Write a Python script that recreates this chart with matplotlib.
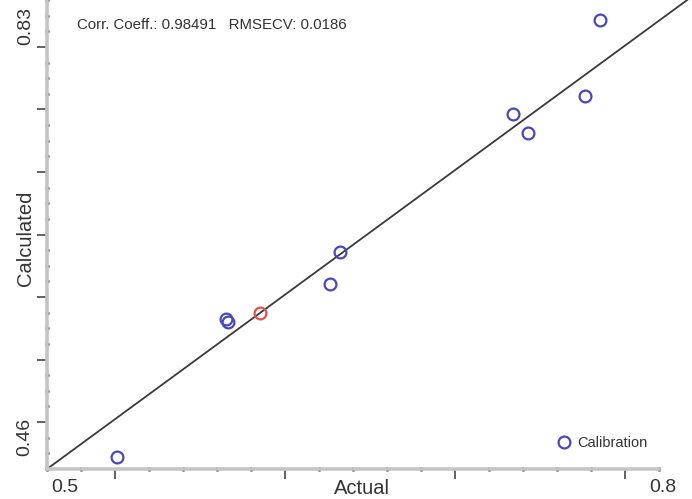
import matplotlib.pyplot as plt
import numpy as np

# values
actual_cal = [0.5343, 0.5877, 0.5887, 0.6387, 0.6436, 0.7284, 0.7358, 0.7637, 0.7711]
calc_cal = [0.4695, 0.5783, 0.5760, 0.6060, 0.6312, 0.7401, 0.7251, 0.7543, 0.8143]
actual_val = [0.6044]
calc_val = [0.5831]
fit_slope = 1.179
fit_x0, fit_y0 = 0.5, 0.46

x_min, x_max = 0.5, 0.8
y_min, y_max = 0.46, 0.83
corr = 0.98491
rmsecv = 0.0186

W, H = 692, 499
fig = plt.figure(figsize=(W / 100, H / 100), dpi=100)
ax = fig.add_axes([47 / W, 30 / H, 612 / W, 469 / H])
ax.set_xlim(x_min, x_max)
ax.set_ylim(y_min, y_max)

# regression line runs past the axes up to the figure edge
xs = np.array([fit_x0, 0.83])
ax.plot(xs, fit_y0 + fit_slope * (xs - fit_x0), color='#3a3a3a', lw=1.3, clip_on=False, zorder=2)

ax.plot(actual_cal, calc_cal, 'o', ms=8.5, mfc='none', mec='#4848b8', mew=1.6,
        label='Calibration', zorder=3)
ax.plot(actual_val, calc_val, 'o', ms=8.5, mfc='none', mec='#e05050', mew=1.6, zorder=3)

# ticks: minor every step, major every few steps
xstep = (x_max - x_min) / 18
ystep = (y_max - y_min) / 30
ax.set_xticks([x_min + k * xstep for k in (2, 7, 12, 17)])
ax.set_xticks([x_min + k * xstep for k in range(19)], minor=True)
ax.set_yticks([y_min + k * ystep for k in range(3, 30, 4)])
ax.set_yticks([y_min + k * ystep for k in range(31)], minor=True)
ax.set_xticklabels([])
ax.set_yticklabels([])
ax.tick_params(which='major', direction='out', length=7, width=1.3, color='#555555')
ax.tick_params(which='minor', direction='inout', length=2.5, width=1.8, color='#333333')

for s in ('top', 'right'):
    ax.spines[s].set_visible(False)
for s in ('left', 'bottom'):
    ax.spines[s].set_color('#c4c4c4')
    ax.spines[s].set_linewidth(2.6)

fnt = ['Liberation Sans', 'DejaVu Sans']

def px(x, y):
    return x / W, 1 - y / H

fig.text(*px(65, 488), '0.5', ha='center', va='center', fontsize=14, family=fnt, color='#333333')
fig.text(*px(663, 488), '0.8', ha='center', va='center', fontsize=14, family=fnt, color='#333333')
fig.text(*px(25, 437), '0.46', ha='center', va='center', fontsize=14, rotation=90, family=fnt, color='#333333')
fig.text(*px(26, 26), '0.83', ha='center', va='center', fontsize=14, rotation=90, family=fnt, color='#333333')
fig.text(*px(362, 488), 'Actual', ha='center', va='center', fontsize=14.5, family=fnt, color='#333333')
fig.text(*px(26, 238), 'Calculated', ha='center', va='center', fontsize=14.5, rotation=90, family=fnt, color='#333333')
fig.text(*px(77, 25), f'Corr. Coeff.: {corr}   RMSECV: {rmsecv}', ha='left', va='center',
         fontsize=10.8, family=fnt, color='#333333')

ax.legend(loc='center left', bbox_to_anchor=px(555, 443), bbox_transform=fig.transFigure,
          frameon=False, handlelength=1.2, handletextpad=0.3, borderpad=0, borderaxespad=0,
          prop={'family': fnt, 'size': 10.5}, labelcolor='#333333')

fig.savefig('out.png', dpi=100)
